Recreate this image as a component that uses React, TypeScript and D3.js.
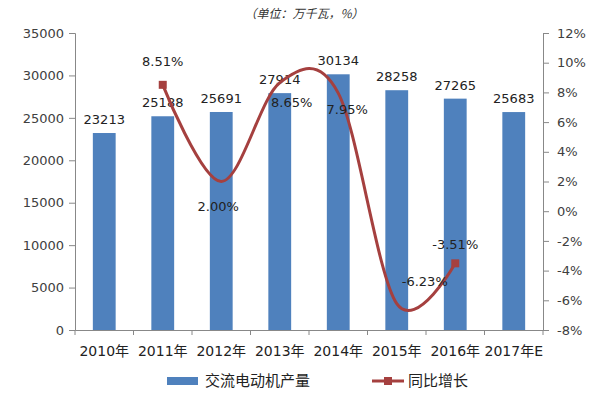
import React, { useEffect, useRef } from "react";
import * as d3 from "d3";

const years = ["2010年", "2011年", "2012年", "2013年", "2014年", "2015年", "2016年", "2017年E"];
const output = [23213, 25188, 25691, 27914, 30134, 28258, 27265, 25683];
const growthYears = ["2011年", "2012年", "2013年", "2014年", "2015年", "2016年"];
const growth = [8.51, 2.0, 8.65, 7.95, -6.23, -3.51];
const leftTicks = [0, 5000, 10000, 15000, 20000, 25000, 30000, 35000];
const rightTicks = [-8, -6, -4, -2, 0, 2, 4, 6, 8, 10, 12];

// where each growth label sits relative to its point (dx, dy of the text centre)
const growthLabelShift = [
  [0, -23],
  [-3, 25],
  [12, 20],
  [9, 16],
  [28, -22],
  [0, -19],
];

const BAR = "#4F81BD";
const LINE = "#A5403F";
const FONT = "'DejaVu Sans', 'Noto Sans CJK SC', sans-serif";
const CJK = "'Noto Sans CJK SC', sans-serif";

const App = () => {
  const ref = useRef<SVGSVGElement>(null);

  useEffect(() => {
    const width = 600;
    const height = 399;
    const margin = { top: 33, right: 57, bottom: 69, left: 75 };

    const svg = d3.select(ref.current);
    svg.selectAll("*").remove();

    const x = d3.scaleBand()
      .domain(years)
      .range([margin.left, width - margin.right])
      .paddingInner(0.61)
      .paddingOuter(0.305);

    const band = d3.scaleBand()
      .domain(years)
      .range([margin.left, width - margin.right]);

    const y = d3.scaleLinear()
      .domain([0, 35000])
      .range([height - margin.bottom, margin.top]);

    const y2 = d3.scaleLinear()
      .domain([-8, 12])
      .range([height - margin.bottom, margin.top]);

    // title
    svg.append("text")
      .attr("x", 304)
      .attr("y", 18)
      .attr("text-anchor", "middle")
      .attr("font-family", CJK)
      .attr("font-size", 12)
      .attr("font-style", "italic")
      .attr("fill", "#333")
      .text("（单位：万千瓦，%）");

    // bars
    svg.append("g")
      .selectAll("rect")
      .data(output)
      .enter()
      .append("rect")
      .attr("x", (d, i) => x(years[i])!)
      .attr("y", d => y(d))
      .attr("width", x.bandwidth())
      .attr("height", d => y(0) - y(d))
      .attr("fill", BAR);

    // axes
    const axisColor = "#888";
    const gl = svg.append("g")
      .attr("transform", `translate(${margin.left},0)`)
      .call(d3.axisLeft(y).tickValues(leftTicks).tickSize(6).tickPadding(5).tickFormat(d3.format("d")));
    const gr = svg.append("g")
      .attr("transform", `translate(${width - margin.right},0)`)
      .call(d3.axisRight(y2).tickValues(rightTicks).tickSize(6).tickPadding(8).tickFormat(d => `${d}%`));
    const gb = svg.append("g")
      .attr("transform", `translate(0,${height - margin.bottom})`)
      .call(d3.axisBottom(band).tickSize(0).tickPadding(16));

    // category boundary ticks
    svg.append("g")
      .selectAll("line")
      .data(d3.range(years.length + 1))
      .enter()
      .append("line")
      .attr("x1", i => margin.left + i * band.step())
      .attr("x2", i => margin.left + i * band.step())
      .attr("y1", height - margin.bottom)
      .attr("y2", height - margin.bottom + 5)
      .attr("stroke", axisColor);

    [gl, gr, gb].forEach(g => {
      g.selectAll("path, line").attr("stroke", axisColor);
      g.selectAll("text")
        .attr("font-family", FONT)
        .attr("font-size", 13)
        .attr("fill", "#404040");
    });
    gb.selectAll("text").attr("font-size", 14).attr("fill", "#222");

    // bar labels
    svg.append("g")
      .selectAll("text")
      .data(output)
      .enter()
      .append("text")
      .attr("x", (d, i) => band(years[i])! + band.bandwidth() / 2)
      .attr("y", d => y(d) - 9)
      .attr("text-anchor", "middle")
      .attr("font-family", FONT)
      .attr("font-size", 13)
      .attr("fill", "#222")
      .text(d => d);

    // growth line
    const cx = (yr: string) => band(yr)! + band.bandwidth() / 2;
    const line = d3.line<number>()
      .x((d, i) => cx(growthYears[i]))
      .y(d => y2(d))
      .curve(d3.curveCardinal.tension(0));

    svg.append("path")
      .datum(growth)
      .attr("d", line)
      .attr("fill", "none")
      .attr("stroke", LINE)
      .attr("stroke-width", 3);

    const ends = [0, growth.length - 1];
    svg.append("g")
      .selectAll("rect")
      .data(ends)
      .enter()
      .append("rect")
      .attr("x", i => cx(growthYears[i]) - 4)
      .attr("y", i => y2(growth[i]) - 4)
      .attr("width", 8)
      .attr("height", 8)
      .attr("fill", LINE);

    svg.append("g")
      .selectAll("text")
      .data(growth)
      .enter()
      .append("text")
      .attr("x", (d, i) => cx(growthYears[i]) + growthLabelShift[i][0])
      .attr("y", (d, i) => y2(d) + growthLabelShift[i][1])
      .attr("dy", "0.35em")
      .attr("text-anchor", "middle")
      .attr("font-family", FONT)
      .attr("font-size", 13)
      .attr("fill", "#222")
      .text(d => `${d.toFixed(2)}%`);

    // legend
    const leg = svg.append("g").attr("transform", "translate(0,381)");
    leg.append("rect")
      .attr("x", 167).attr("y", -4).attr("width", 31).attr("height", 8)
      .attr("fill", BAR);
    leg.append("text")
      .attr("x", 205).attr("y", 0).attr("dy", "0.35em")
      .attr("font-family", CJK).attr("font-size", 15).attr("fill", "#222")
      .text("交流电动机产量");
    leg.append("line")
      .attr("x1", 372).attr("x2", 404).attr("y1", 0).attr("y2", 0)
      .attr("stroke", LINE).attr("stroke-width", 3);
    leg.append("rect")
      .attr("x", 384).attr("y", -4).attr("width", 8).attr("height", 8)
      .attr("fill", LINE);
    leg.append("text")
      .attr("x", 408).attr("y", 0).attr("dy", "0.35em")
      .attr("font-family", CJK).attr("font-size", 15).attr("fill", "#222")
      .text("同比增长");
  }, []);

  return (
    <svg
      ref={ref}
      width={600}
      height={399}
      style={{ position: "absolute", left: 0, top: 0, background: "#fff" }}
    />
  );
};

export default App;
